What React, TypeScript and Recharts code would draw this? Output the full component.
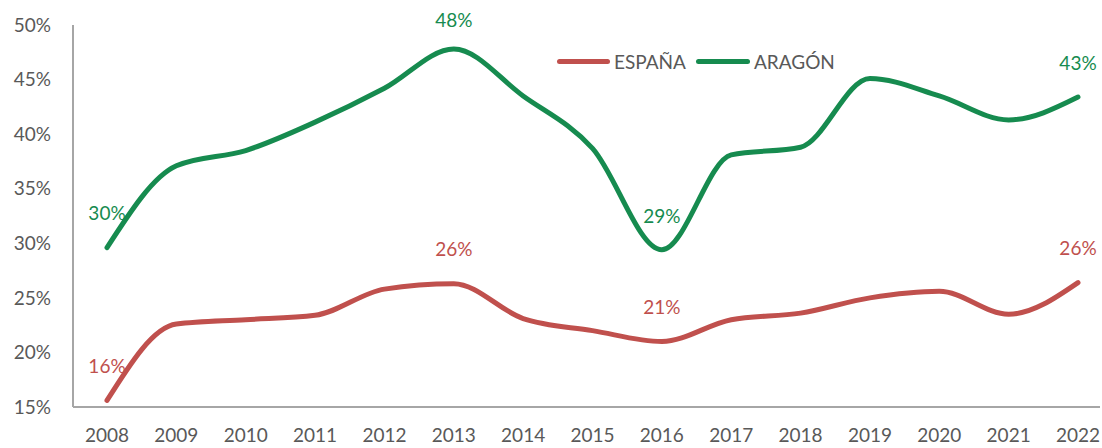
import { LineChart, Line, XAxis, YAxis, LabelList } from 'recharts'

const years = ['2008', '2009', '2010', '2011', '2012', '2013', '2014', '2015', '2016', '2017', '2018', '2019', '2020', '2021', '2022']
const espana = [15.6, 22.6, 23.0, 23.4, 25.8, 26.3, 23.1, 22.0, 21.0, 23.0, 23.6, 25.0, 25.6, 23.5, 26.4]
const aragon = [29.6, 37.1, 38.5, 41.1, 44.2, 47.8, 43.5, 38.7, 29.4, 38.1, 38.8, 45.1, 43.5, 41.3, 43.4]
const yTicks = [15, 20, 25, 30, 35, 40, 45, 50]
const labelled = [0, 5, 8, 14]

const RED = '#C0504D'
const GREEN = '#168B4F'
const GREY = '#595959'
const FONT = 'Lato, "Open Sans", sans-serif'

const data = years.map((y, i) => ({ year: y, espana: espana[i], aragon: aragon[i] }))

const pointLabel = (color: string) => (props: any) => {
  const { x, y, value, index } = props
  if (!labelled.includes(index)) return null
  const dy = y - 30 < 22 ? 22 - y : -32
  return (
    <text x={x} y={y + dy} fill={color} fontSize={19} fontFamily={FONT} textAnchor="middle" dominantBaseline="middle">
      {Math.round(value)}%
    </text>
  )
}

export default function App() {
  return (
    <div style={{ position: 'absolute', left: 0, top: 0, width: 1102, height: 448, background: '#fff' }}>
      <LineChart width={1102} height={448} data={data} margin={{ top: 25, right: 2, left: 0, bottom: 0 }}>
        <XAxis
          dataKey="year"
          height={41}
          padding={{ left: 34, right: 22 }}
          tickLine={false}
          tickSize={0}
          tickMargin={22}
          axisLine={{ stroke: '#A6A6A6', strokeWidth: 2 }}
          tick={{ fill: GREY, fontSize: 19, fontFamily: FONT }}
          interval={0}
        />
        <YAxis
          width={73}
          domain={[15, 50]}
          ticks={yTicks}
          tickFormatter={(v: number) => `${v}%`}
          tickLine={false}
          tickSize={0}
          tickMargin={22}
          axisLine={{ stroke: '#A6A6A6', strokeWidth: 2 }}
          tick={{ fill: GREY, fontSize: 19, fontFamily: FONT }}
        />
        <Line type="monotone" dataKey="espana" name="ESPAÑA" stroke={RED} strokeWidth={5} dot={false} strokeLinecap="round" isAnimationActive={false}>
          <LabelList dataKey="espana" content={pointLabel(RED)} />
        </Line>
        <Line type="monotone" dataKey="aragon" name="ARAGÓN" stroke={GREEN} strokeWidth={5} dot={false} strokeLinecap="round" isAnimationActive={false}>
          <LabelList dataKey="aragon" content={pointLabel(GREEN)} />
        </Line>
      </LineChart>
      <div style={{ position: 'absolute', left: 557, top: 50, display: 'flex', alignItems: 'center', fontFamily: FONT, fontSize: 19, color: GREY }}>
        <span style={{ width: 53, height: 5, background: RED, borderRadius: 3, marginRight: 4 }} />
        <span style={{ marginRight: 10 }}>ESPAÑA</span>
        <span style={{ width: 54, height: 5, background: GREEN, borderRadius: 3, marginRight: 4 }} />
        <span>ARAGÓN</span>
      </div>
    </div>
  )
}
